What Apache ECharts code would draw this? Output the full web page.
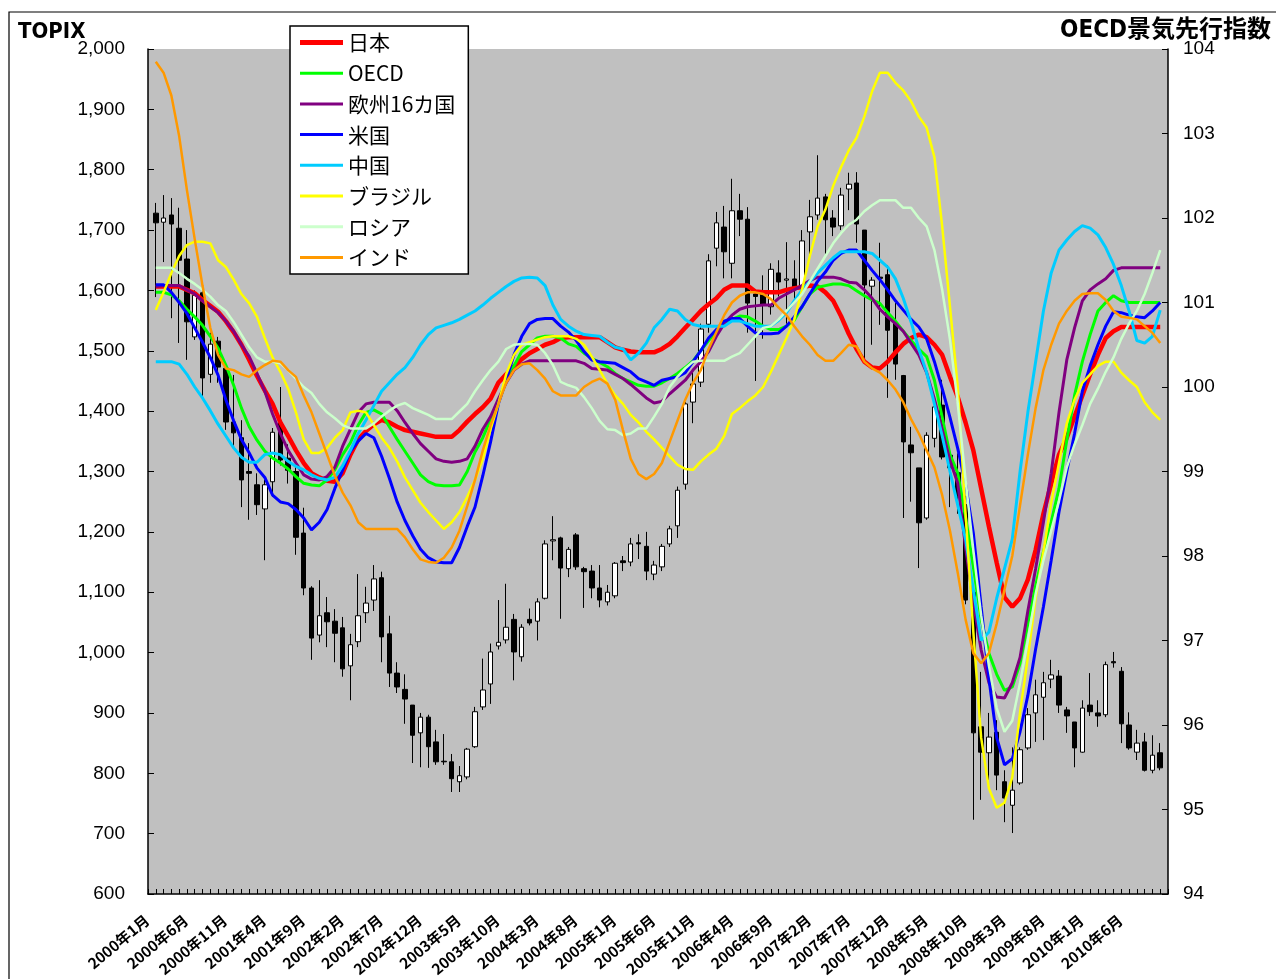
<!DOCTYPE html>
<html><head><meta charset="utf-8">
<script src="https://cdn.jsdelivr.net/npm/echarts@6/dist/echarts.min.js"></script>
<style>html,body{margin:0;padding:0;background:#fff}#c{width:1276px;height:979px}</style>
</head><body><div id="c"></div>
<script>
// ---- categories ----
const startYear = 2000;
const months = [];
for (let y = startYear; y <= 2010; y++) for (let m = 1; m <= 12; m++) months.push(y + '年' + m + '月');
const nMonths = 130; // 2000年1月 .. 2010年10月
const labelMonths = months.slice(0, 126); // tick labels 2000年1月 .. 2010年6月

// ---- TOPIX monthly candles ----
const topixOpen = [1728,1713,1725,1703,1652,1523,1596,1461,1516,1471,
 1382,1356,1300,1278,1238,1283,1380,1322,1300,1198,
 1107,1029,1066,1052,1041,978,1018,1066,1087,1124,
 1031,966,939,913,867,893,852,820,819,786,
 794,844,910,948,1011,1021,1055,993,1055,1052,
 1090,1185,1190,1139,1195,1139,1135,1107,1084,1094,
 1152,1150,1182,1176,1130,1142,1180,1210,1279,1415,
 1448,1544,1670,1705,1645,1732,1718,1594,1594,1573,
 1629,1617,1619,1607,1697,1725,1755,1720,1707,1768,
 1778,1700,1607,1622,1626,1546,1459,1344,1306,1223,
 1355,1410,1327,1298,1245,1100,877,834,868,786,
 747,784,842,900,926,956,961,905,885,835,
 913,900,897,985,969,880,835,852,805,834];
const topixClose = [1712,1720,1710,1650,1548,1592,1455,1511,1473,1382,
 1364,1286,1297,1245,1278,1365,1319,1302,1191,1107,
 1024,1061,1051,1032,973,1013,1061,1082,1122,1026,
 966,943,923,863,893,844,819,819,791,796,
 840,902,938,1001,1017,1042,1001,1042,1049,1084,
 1180,1187,1140,1171,1142,1134,1107,1087,1100,1148,
 1149,1180,1180,1135,1145,1176,1205,1269,1412,1445,
 1536,1649,1712,1664,1732,1718,1579,1590,1576,1635,
 1614,1619,1606,1682,1722,1753,1717,1705,1758,1776,
 1710,1609,1617,1620,1534,1478,1349,1331,1215,1360,
 1407,1324,1306,1258,1087,867,835,860,797,759,
 772,839,897,930,950,963,913,895,842,908,
 902,895,980,983,882,842,850,805,830,809];
const topixLow = [1589,1647,1554,1513,1485,1518,1423,1447,1447,1369,
 1341,1241,1220,1228,1153,1258,1310,1280,1162,1095,
 988,1017,1009,984,960,921,1009,1049,1069,984,
 943,933,882,817,810,809,814,814,769,769,
 790,842,905,915,1005,1015,954,985,1045,1020,
 1088,1153,1056,1125,1137,1074,1090,1075,1078,1090,
 1135,1143,1155,1120,1120,1135,1175,1190,1270,1380,
 1440,1530,1640,1620,1620,1690,1530,1450,1520,1560,
 1590,1545,1580,1600,1654,1717,1659,1690,1700,1733,
 1679,1481,1510,1543,1422,1452,1223,1250,1140,1220,
 1340,1320,1241,1230,1080,723,756,784,772,719,
 701,781,839,852,855,941,900,867,810,834,
 895,877,893,975,850,839,822,803,800,805];
const topixHigh = [1745,1758,1753,1737,1700,1600,1606,1530,1523,1473,
 1460,1385,1347,1297,1286,1372,1440,1345,1310,1240,
 1110,1120,1092,1072,1059,1031,1130,1109,1145,1134,
 1061,984,964,913,900,897,872,865,832,812,
 842,910,990,1015,1087,1114,1064,1047,1073,1090,
 1186,1226,1192,1175,1198,1142,1145,1145,1112,1150,
 1160,1190,1196,1200,1152,1180,1210,1275,1415,1465,
 1545,1660,1730,1740,1785,1760,1738,1600,1625,1645,
 1650,1680,1650,1700,1750,1824,1760,1733,1770,1795,
 1796,1700,1622,1679,1642,1579,1460,1374,1306,1365,
 1412,1452,1336,1330,1260,1110,968,900,888,805,
 843,843,908,955,968,988,971,910,885,921,
 966,921,985,1001,976,901,872,867,863,850];

// ---- OECD composite leading indicators ----
const jp = [101.19,101.19,101.19,101.19,101.15,101.11,101.03,100.96,100.89,100.78,
 100.65,100.5,100.32,100.13,99.96,99.8,99.58,99.42,99.25,99.1,
 98.98,98.93,98.89,98.88,98.98,99.2,99.38,99.48,99.56,99.61,
 99.58,99.53,99.49,99.47,99.45,99.43,99.41,99.41,99.41,99.49,
 99.59,99.68,99.76,99.86,100.05,100.15,100.24,100.33,100.4,100.45,
 100.5,100.53,100.58,100.59,100.59,100.59,100.59,100.59,100.53,100.47,
 100.44,100.42,100.41,100.41,100.41,100.45,100.51,100.6,100.7,100.8,
 100.9,100.98,101.05,101.15,101.2,101.2,101.2,101.13,101.12,101.12,
 101.12,101.15,101.17,101.18,101.2,101.19,101.12,101.02,100.84,100.63,
 100.45,100.3,100.23,100.22,100.3,100.41,100.51,100.58,100.62,100.59,
 100.5,100.38,100.12,99.88,99.58,99.25,98.8,98.35,97.92,97.51,
 97.4,97.5,97.72,98.07,98.5,98.86,99.2,99.4,99.65,99.9,
 100.15,100.38,100.58,100.66,100.71,100.71,100.71,100.71,100.71,100.71];
const oecd = [101.12,101.12,101.09,101.02,100.92,100.83,100.73,100.6,100.46,100.26,
 100.02,99.75,99.53,99.37,99.24,99.16,99.1,99.03,98.94,98.86,
 98.84,98.83,98.9,99.02,99.2,99.34,99.55,99.7,99.73,99.68,
 99.53,99.38,99.24,99.1,98.96,98.88,98.84,98.83,98.83,98.84,
 99.0,99.23,99.4,99.62,99.82,100.07,100.25,100.42,100.5,100.58,
 100.6,100.6,100.58,100.51,100.48,100.4,100.34,100.29,100.24,100.16,
 100.1,100.06,100.02,100.01,100.01,100.05,100.1,100.16,100.23,100.31,
 100.43,100.55,100.65,100.74,100.8,100.84,100.83,100.78,100.72,100.68,
 100.68,100.72,100.79,100.95,101.1,101.18,101.2,101.22,101.22,101.2,
 101.14,101.08,101.03,100.99,100.88,100.78,100.66,100.55,100.45,100.36,
 100.08,99.64,99.2,98.98,98.46,97.87,97.25,96.85,96.6,96.41,
 96.45,96.73,97.2,97.65,98.05,98.4,98.8,99.37,99.9,100.3,
 100.62,100.9,101.0,101.08,101.02,101.0,101.0,101.0,101.0,101.0];
const eu16 = [101.19,101.2,101.2,101.2,101.15,101.1,101.02,100.95,100.88,100.78,
 100.66,100.5,100.36,100.16,99.95,99.68,99.45,99.25,99.1,98.96,
 98.91,98.9,98.94,99.05,99.3,99.5,99.7,99.8,99.82,99.82,
 99.82,99.72,99.58,99.45,99.33,99.24,99.15,99.12,99.11,99.12,
 99.15,99.3,99.5,99.65,99.86,100.05,100.2,100.27,100.31,100.31,
 100.31,100.31,100.31,100.31,100.31,100.28,100.22,100.21,100.2,100.15,
 100.1,100.03,99.95,99.87,99.81,99.83,99.92,100.0,100.08,100.2,
 100.3,100.42,100.6,100.75,100.85,100.92,100.95,100.96,100.97,100.97,
 101.05,101.1,101.15,101.2,101.26,101.3,101.3,101.3,101.28,101.24,
 101.23,101.15,101.05,100.92,100.83,100.75,100.66,100.52,100.38,100.17,
 99.86,99.5,99.13,98.86,98.1,97.45,96.89,96.5,96.33,96.32,
 96.5,96.8,97.35,97.85,98.4,98.98,99.7,100.32,100.7,101.02,
 101.15,101.22,101.28,101.38,101.41,101.41,101.41,101.41,101.41,101.41];
const us = [101.21,101.21,101.12,101.0,100.87,100.7,100.53,100.35,100.14,99.85,
 99.6,99.38,99.22,99.04,98.93,98.72,98.64,98.62,98.55,98.45,
 98.31,98.4,98.55,98.8,99.02,99.24,99.36,99.45,99.4,99.18,
 98.92,98.64,98.42,98.24,98.08,97.98,97.93,97.92,97.92,98.1,
 98.35,98.58,98.95,99.35,99.8,100.08,100.38,100.6,100.75,100.8,
 100.81,100.81,100.72,100.65,100.55,100.42,100.32,100.3,100.29,100.28,
 100.23,100.18,100.1,100.06,100.02,100.08,100.1,100.12,100.17,100.3,
 100.43,100.58,100.68,100.78,100.81,100.81,100.72,100.64,100.63,100.63,
 100.64,100.72,100.83,100.95,101.1,101.25,101.36,101.5,101.58,101.62,
 101.62,101.5,101.38,101.27,101.15,101.02,100.91,100.8,100.71,100.57,
 100.3,99.98,99.64,99.27,98.85,98.27,97.4,96.55,95.85,95.53,
 95.6,95.92,96.35,96.9,97.4,97.95,98.52,99.0,99.45,99.95,
 100.25,100.5,100.72,100.89,100.88,100.85,100.83,100.82,100.9,101.0];
const cn = [100.3,100.3,100.3,100.27,100.15,100.0,99.87,99.72,99.56,99.42,
 99.28,99.17,99.11,99.11,99.2,99.22,99.2,99.12,99.06,99.02,
 98.96,98.92,98.9,98.93,99.07,99.25,99.45,99.61,99.78,99.95,
 100.05,100.15,100.23,100.35,100.5,100.62,100.7,100.73,100.76,100.8,
 100.85,100.9,100.97,101.05,101.12,101.19,101.25,101.29,101.3,101.29,
 101.2,100.97,100.8,100.72,100.66,100.62,100.61,100.6,100.53,100.47,
 100.45,100.32,100.4,100.52,100.7,100.8,100.92,100.9,100.8,100.74,
 100.72,100.72,100.72,100.72,100.78,100.78,100.75,100.72,100.72,100.72,
 100.79,100.88,101.02,101.15,101.25,101.35,101.44,101.53,101.6,101.6,
 101.6,101.6,101.58,101.5,101.42,101.28,101.05,100.77,100.45,100.17,
 99.8,99.42,99.0,98.6,98.2,97.6,97.0,97.1,97.5,97.85,
 98.2,99.0,99.7,100.3,100.9,101.35,101.62,101.74,101.84,101.91,
 101.88,101.8,101.65,101.45,101.2,100.9,100.55,100.52,100.6,100.91];
const br = [100.91,101.12,101.35,101.55,101.68,101.72,101.72,101.7,101.5,101.42,
 101.27,101.1,100.99,100.83,100.58,100.35,100.18,99.98,99.7,99.38,
 99.22,99.22,99.28,99.4,99.49,99.7,99.72,99.7,99.55,99.4,
 99.28,99.12,98.93,98.78,98.63,98.52,98.42,98.32,98.4,98.52,
 98.7,98.9,99.15,99.5,99.8,100.15,100.38,100.5,100.53,100.56,
 100.59,100.6,100.6,100.6,100.57,100.5,100.36,100.2,100.04,99.9,
 99.8,99.67,99.58,99.47,99.38,99.28,99.18,99.08,99.03,99.02,
 99.12,99.2,99.27,99.42,99.68,99.75,99.83,99.9,100.0,100.18,
 100.38,100.58,100.8,101.15,101.55,101.9,102.1,102.38,102.6,102.8,
 102.95,103.2,103.5,103.72,103.72,103.6,103.51,103.38,103.2,103.07,
 102.72,101.9,100.95,100.0,98.5,97.1,95.85,95.25,95.02,95.08,
 95.38,96.15,96.8,97.5,98.05,98.63,99.1,99.57,99.85,100.05,
 100.15,100.25,100.3,100.3,100.17,100.08,100.0,99.82,99.7,99.61];
const ru = [101.41,101.41,101.41,101.35,101.28,101.22,101.15,101.07,100.97,100.9,
 100.77,100.62,100.47,100.35,100.3,100.3,100.28,100.2,100.1,100.0,
 99.93,99.8,99.7,99.63,99.55,99.51,99.51,99.51,99.57,99.65,
 99.72,99.78,99.81,99.75,99.71,99.67,99.62,99.62,99.62,99.71,
 99.8,99.95,100.08,100.2,100.3,100.45,100.5,100.51,100.51,100.5,
 100.4,100.26,100.06,100.02,99.99,99.88,99.75,99.6,99.5,99.49,
 99.43,99.45,99.51,99.51,99.65,99.8,100.0,100.12,100.22,100.3,
 100.31,100.31,100.31,100.31,100.36,100.4,100.5,100.6,100.7,100.72,
 100.8,100.9,101.0,101.1,101.25,101.4,101.55,101.7,101.82,101.92,
 101.98,102.08,102.15,102.21,102.21,102.21,102.12,102.12,102.0,101.9,
 101.62,101.15,100.56,99.8,98.9,98.07,97.3,96.7,96.2,95.92,
 96.05,96.5,97.0,97.55,97.95,98.3,98.65,99.05,99.32,99.55,
 99.8,99.98,100.18,100.35,100.57,100.75,100.9,101.1,101.35,101.62];
const india = [103.85,103.72,103.45,102.97,102.33,101.75,101.2,100.7,100.38,100.22,
 100.2,100.15,100.12,100.2,100.26,100.31,100.3,100.2,100.12,99.9,
 99.7,99.45,99.2,98.95,98.75,98.6,98.4,98.32,98.32,98.32,
 98.32,98.32,98.22,98.08,97.96,97.93,97.92,97.98,98.1,98.3,
 98.59,98.9,99.25,99.55,99.8,100.05,100.2,100.27,100.28,100.2,
 100.1,99.95,99.9,99.9,99.9,100.0,100.06,100.1,100.04,99.85,
 99.49,99.15,98.97,98.91,98.97,99.1,99.35,99.6,99.85,100.05,
 100.2,100.45,100.65,100.85,101.0,101.08,101.12,101.12,101.1,101.04,
 100.94,100.85,100.72,100.6,100.5,100.38,100.31,100.31,100.4,100.5,
 100.48,100.3,100.22,100.17,100.08,99.97,99.82,99.62,99.45,99.25,
 99.05,98.72,98.3,97.8,97.25,96.85,96.73,96.85,97.2,97.6,
 98.0,98.6,99.2,99.75,100.2,100.5,100.75,100.9,101.02,101.1,
 101.11,101.11,101.03,100.9,100.83,100.82,100.8,100.72,100.64,100.52];

const seriesNames = ['日本','OECD','欧州16カ国','米国','中国','ブラジル','ロシア','インド'];
const seriesValues = [jp, oecd, eu16, us, cn, br, ru, india];
const seriesColors = ['#FF0000','#00FF00','#800080','#0000FF','#00CCFF','#FFFF00','#CCFFCC','#FF9900'];
const seriesWidths = [4.5, 3, 3, 3, 3, 2.5, 2.5, 2.5];

// ---- build ----
const cats = [''].concat(months.slice(0, nMonths)).concat(['']);
const pad = v => ['-'].concat(v).concat(['-']);
const candleData = [['-','-','-','-']];
for (let i = 0; i < nMonths; i++) candleData.push([topixOpen[i], topixClose[i], topixLow[i], topixHigh[i]]);
candleData.push(['-','-','-','-']);

const FONT = '"Noto Sans CJK JP", "Noto Sans", sans-serif';
const NUMFONT = '"Liberation Sans", "Noto Sans", sans-serif';
const STEP = 1020 / 131; // px per month on the main axis

const series = [{
  name: 'TOPIX', type: 'candlestick', xAxisIndex: 0, yAxisIndex: 0,
  data: candleData, barWidth: 5,
  itemStyle: { color: '#FFFFFF', color0: '#000000', borderColor: '#000000', borderColor0: '#000000', borderWidth: 1 }
}];
seriesNames.forEach((n, i) => {
  series.push({
    name: n, type: 'line', xAxisIndex: 0, yAxisIndex: 1,
    data: pad(seriesValues[i]), symbol: 'none', smooth: false,
    color: seriesColors[i],
    lineStyle: { color: seriesColors[i], width: seriesWidths[i] },
    z: 3
  });
});

const chart = echarts.init(document.getElementById('c'));
chart.setOption({
  animation: false,
  backgroundColor: '#FFFFFF',
  textStyle: { fontFamily: FONT },
  title: [
    { text: 'TOPIX', left: 13, top: 16, textStyle: { fontSize: 22, fontWeight: 'bold', color: '#000', fontFamily: '"DejaVu Sans Condensed", sans-serif' } },
    { text: 'OECD景気先行指数', right: 0, top: 14, textStyle: { fontSize: 24, fontWeight: 'bold', color: '#000', fontFamily: '"DejaVu Sans Condensed", "Noto Sans CJK JP", sans-serif' } }
  ],
  graphic: [{
    type: 'rect', silent: true, z: 100,
    shape: { x: 9, y: 12, width: 1400, height: 1100 },
    style: { fill: 'none', stroke: '#000', lineWidth: 1.2 }
  }],
  legend: {
    orient: 'vertical', left: 290, top: 26,
    data: seriesNames.map((n, i) => ({ name: n, icon: i === 0 ? 'path://M0,0h43v5h-43z' : 'path://M0,0h43v3h-43z' })),
    itemWidth: 43, itemHeight: 20, itemGap: 9.7,
    padding: [6, 13, 6, 10],
    backgroundColor: '#FFFFFF', borderColor: '#000', borderWidth: 1.5, borderRadius: 0,
    textStyle: { fontSize: 21, color: '#000', lineHeight: 20, fontFamily: FONT },
    selectedMode: false
  },
  grid: [
    { left: 148, top: 49, width: 1020, height: 845, show: true, backgroundColor: '#C0C0C0', borderWidth: 0 },
    { left: 147, top: 49, width: STEP * 125, height: 845, show: false }
  ],
  xAxis: [
    { type: 'category', gridIndex: 0, data: cats, boundaryGap: false,
      axisLine: { show: true, lineStyle: { color: '#000', width: 1.5 } },
      axisTick: { show: true, inside: true, length: 5, interval: 0, lineStyle: { color: '#000', width: 1 } },
      axisLabel: { show: false }, splitLine: { show: false } },
    { type: 'category', gridIndex: 1, data: labelMonths, boundaryGap: false,
      axisLine: { show: false }, axisTick: { show: false }, splitLine: { show: false },
      axisLabel: { interval: 4, rotate: 40, fontSize: 15, fontWeight: 'bold', color: '#000', margin: 26, fontFamily: FONT } }
  ],
  yAxis: [
    { type: 'value', gridIndex: 0, position: 'left', min: 600, max: 2000, interval: 100,
      axisLine: { show: true, lineStyle: { color: '#000', width: 1.5 } },
      axisTick: { show: true, inside: true, length: 6, lineStyle: { color: '#000' } },
      axisLabel: { fontSize: 19, color: '#000', margin: 23, fontFamily: NUMFONT,
        formatter: v => v.toLocaleString('en-US') },
      splitLine: { show: false } },
    { type: 'value', gridIndex: 0, position: 'right', min: 94, max: 104, interval: 1,
      axisLine: { show: true, lineStyle: { color: '#000', width: 1.5 } },
      axisTick: { show: true, inside: true, length: 6, lineStyle: { color: '#000' } },
      axisLabel: { fontSize: 19, color: '#000', margin: 15, fontFamily: NUMFONT },
      splitLine: { show: false } },
    { type: 'value', gridIndex: 1, show: false }
  ],
  series: series
});
</script></body></html>
